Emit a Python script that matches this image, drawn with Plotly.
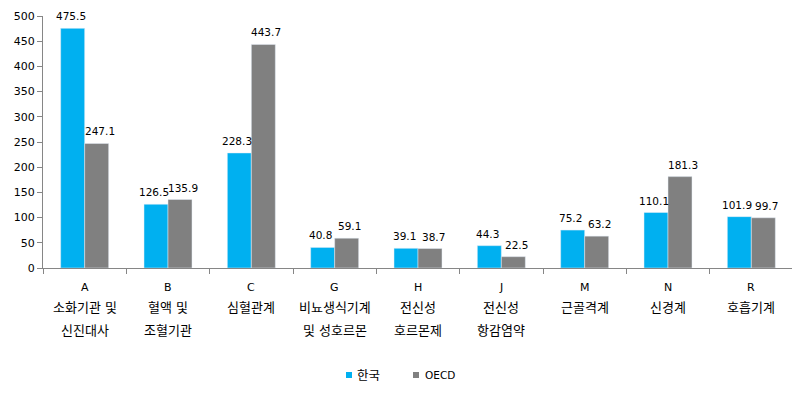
import plotly.graph_objects as go

codes = ["A", "B", "C", "G", "H", "J", "M", "N", "R"]
names_line1 = ["소화기관 및", "혈액 및", "심혈관계", "비뇨생식기계", "전신성", "전신성", "근골격계", "신경계", "호흡기계"]
names_line2 = ["신진대사", "조혈기관", "", "및 성호르몬", "호르몬제", "항감염약", "", "", ""]
series_names = ["한국", "OECD"]
korea = [475.5, 126.5, 228.3, 40.8, 39.1, 44.3, 75.2, 110.1, 101.9]
oecd = [247.1, 135.9, 443.7, 59.1, 38.7, 22.5, 63.2, 181.3, 99.7]
y_ticks = [0, 50, 100, 150, 200, 250, 300, 350, 400, 450, 500]

FONT = "DejaVu Sans, Noto Sans CJK KR, sans-serif"
COLORS = ["#00B0F0", "#808080"]

# The page body has an 8px default margin; figure coords = page coords - 8.
W, H = 800, 394
L, T = 35, 8
PW, PH = 750, 252


def px_x(fx):
    return (fx - L) / PW


def px_y(fy):
    return (T + PH - fy) / PH


fig = go.Figure()
fig.add_trace(go.Bar(name=series_names[0], x=codes, y=korea, marker_color=COLORS[0], showlegend=False))
fig.add_trace(go.Bar(name=series_names[1], x=codes, y=oecd, marker_color=COLORS[1], showlegend=False))

annotations = []
for c, k, o in zip(codes, korea, oecd):
    annotations.append(dict(x=c, y=k, xref="x", yref="y", text=f"{k:.1f}", showarrow=False,
                            xanchor="center", yanchor="bottom", xshift=-14, yshift=4,
                            font=dict(size=10.5, family=FONT, color="#000")))
    annotations.append(dict(x=c, y=o, xref="x", yref="y", text=f"{o:.1f}", showarrow=False,
                            xanchor="center", yanchor="bottom", xshift=15, yshift=4,
                            font=dict(size=10.5, family=FONT, color="#000")))

for c, l1, l2 in zip(codes, names_line1, names_line2):
    annotations.append(dict(x=c, y=0, xref="x", yref="paper", text=c, showarrow=False,
                            yanchor="middle", yshift=-19, font=dict(size=11, family=FONT, color="#000")))
    if l1:
        annotations.append(dict(x=c, y=0, xref="x", yref="paper", text=l1, showarrow=False,
                                yanchor="middle", yshift=-39, font=dict(size=13, family=FONT, color="#000")))
    if l2:
        annotations.append(dict(x=c, y=0, xref="x", yref="paper", text=l2, showarrow=False,
                                yanchor="middle", yshift=-62, font=dict(size=13, family=FONT, color="#000")))

# Compact legend (small square swatches, as in the reference)
shapes = []
legend_items = [(series_names[0], COLORS[0], 338, 347, 12.5), (series_names[1], COLORS[1], 405, 415, 10.5)]
for name, col, sx, tx, fs in legend_items:
    shapes.append(dict(type="rect", xref="paper", yref="paper",
                       x0=px_x(sx), x1=px_x(sx + 6), y0=px_y(364), y1=px_y(370),
                       fillcolor=col, line=dict(width=0)))
    annotations.append(dict(x=px_x(tx), y=px_y(367), xref="paper", yref="paper", text=name,
                            showarrow=False, xanchor="left", yanchor="middle",
                            font=dict(size=fs, family=FONT, color="#000")))

fig.update_layout(
    width=W, height=H,
    margin=dict(l=L, r=W - L - PW, t=T, b=H - T - PH, autoexpand=False),
    paper_bgcolor="white", plot_bgcolor="white",
    barmode="group", bargap=0.424, bargroupgap=0,
    font=dict(family=FONT, size=11, color="#000"),
    showlegend=False,
    annotations=annotations,
    shapes=shapes,
)
fig.update_xaxes(
    showticklabels=False, tickson="boundaries", ticks="outside", ticklen=5,
    tickcolor="#868686", showline=True, linecolor="#868686", linewidth=1,
    showgrid=False, zeroline=False, automargin=False,
)
fig.update_yaxes(
    range=[0, 500], tickvals=y_ticks, ticks="outside", ticklen=5, tickcolor="#868686",
    showline=True, linecolor="#868686", linewidth=1, showgrid=False, zeroline=False,
    tickfont=dict(size=11, family=FONT), automargin=False,
)

fig.write_html("out.html")
